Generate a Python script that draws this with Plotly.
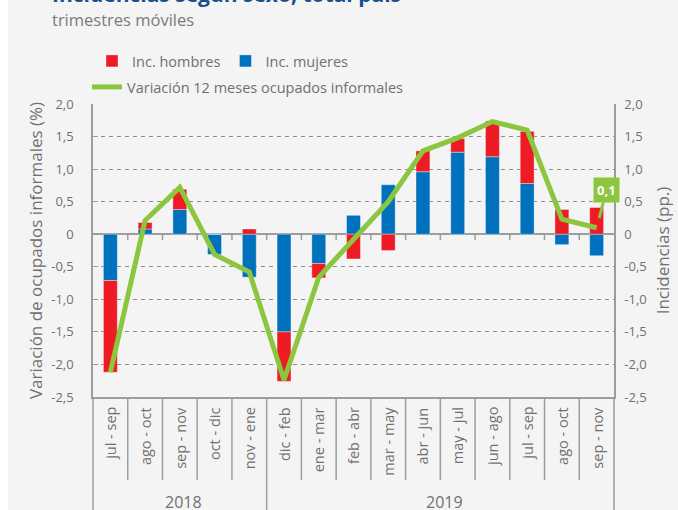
import plotly.graph_objects as go

# ---------------- data ----------------
periods = ["jul - sep", "ago - oct", "sep - nov", "oct - dic", "nov - ene",
           "dic - feb", "ene - mar", "feb - abr", "mar - may", "abr - jun",
           "may - jul", "jun - ago", "jul - sep", "ago - oct", "sep - nov"]
years = ["2018"] * 5 + ["2019"] * 10
inc_mujeres = [-0.71, 0.08, 0.38, -0.31, -0.66, -1.50, -0.45, 0.29, 0.76, 0.96,
               1.26, 1.19, 0.78, -0.16, -0.33]
inc_hombres = [-1.41, 0.10, 0.31, 0.00, 0.08, -0.76, -0.22, -0.38, -0.25, 0.32,
               0.21, 0.55, 0.80, 0.38, 0.41]
variacion = [-2.12, 0.21, 0.72, -0.31, -0.58, -2.24, -0.66, -0.07, 0.50, 1.28,
             1.48, 1.73, 1.60, 0.23, 0.10]
tick_vals = [2.0, 1.5, 1.0, 0.5, 0.0, -0.5, -1.0, -1.5, -2.0, -2.5]
tick_text = ["2,0", "1,5", "1,0", "0,5", "0", "-0,5", "-1,0", "-1,5", "-2,0", "-2,5"]

# ---------------- styling ----------------
OFFX = 8                      # page left margin (white strip)
W, H = 678 - OFFX, 510
PLOT_LEFT, PLOT_RIGHT, PLOT_TOP, PLOT_BOTTOM = 93, 614, 104, 397   # page px
L, R = PLOT_LEFT - OFFX, W - (PLOT_RIGHT - OFFX)
T, B = PLOT_TOP, H - PLOT_BOTTOM
PW, PH = W - L - R, H - T - B
FONT = "Open Sans"
GRAY_TXT = "#707070"
AXIS_GRAY = "#9d9d9d"
RED, BLUE, GREEN = "#ed1c24", "#0071bc", "#8cc63f"
BG = "#f4f4f4"


def px_x(px):
    return (px - OFFX - L) / PW


def px_y(py):
    return (H - B - py) / PH


x = list(range(len(periods)))

fig = go.Figure()
fig.add_trace(go.Bar(x=x, y=inc_mujeres, name="Inc. mujeres", marker_color=BLUE,
                     marker_line=dict(width=0.6, color="rgba(255,255,255,0.6)"),
                     width=0.4, legend="legend", legendrank=2))
fig.add_trace(go.Bar(x=x, y=inc_hombres, name="Inc. hombres", marker_color=RED,
                     marker_line=dict(width=0.6, color="rgba(255,255,255,0.6)"),
                     width=0.4, legend="legend", legendrank=1))
fig.add_trace(go.Scatter(x=x, y=variacion, mode="lines",
                         name="Variación 12 meses ocupados informales",
                         line=dict(color=GREEN, width=5), legend="legend2"))
# invisible trace so the right axis is drawn
fig.add_trace(go.Scatter(x=x, y=variacion, yaxis="y2", mode="lines", opacity=0,
                         showlegend=False, hoverinfo="skip"))

yrange = [min(tick_vals), max(tick_vals)]

fig.update_layout(
    width=W, height=H,
    margin=dict(l=L, r=R, t=T, b=B, autoexpand=False),
    paper_bgcolor=BG, plot_bgcolor=BG,
    barmode="relative",
    font=dict(family=FONT, color=GRAY_TXT, size=13),
    xaxis=dict(range=[-0.5, len(periods) - 0.5], showticklabels=False, ticks="",
               showgrid=False, zeroline=False, showline=True, linecolor=AXIS_GRAY,
               linewidth=1.5, fixedrange=True),
    yaxis=dict(range=yrange, tickvals=tick_vals, ticktext=tick_text,
               showgrid=True, gridcolor="#8a8a8a", griddash="4px,4px", gridwidth=1,
               zeroline=True, zerolinecolor=AXIS_GRAY, zerolinewidth=2,
               showline=True, linecolor=AXIS_GRAY, linewidth=1.5,
               ticks="inside", ticklen=5, tickcolor=AXIS_GRAY,
               ticklabelstandoff=15,
               tickfont=dict(size=13, color=GRAY_TXT),
               title=dict(text="Variación de ocupados informales (%)",
                          font=dict(size=17, color=GRAY_TXT), standoff=4),
               automargin=False),
    yaxis2=dict(range=yrange, tickvals=tick_vals, ticktext=tick_text,
                overlaying="y", side="right", showgrid=False, zeroline=False,
                showline=True, linecolor=AXIS_GRAY, linewidth=1.5, ticks="",
                ticklabelstandoff=6,
                tickfont=dict(size=13, color=GRAY_TXT),
                title=dict(text="Incidencias (pp.)",
                           font=dict(size=17, color=GRAY_TXT), standoff=11),
                automargin=False),
    legend=dict(orientation="h", x=px_x(92), xanchor="left", y=px_y(61),
                yanchor="middle", bgcolor="rgba(0,0,0,0)",
                font=dict(size=14.5, color=GRAY_TXT), traceorder="normal"),
    legend2=dict(orientation="h", x=px_x(87), xanchor="left", y=px_y(87),
                 yanchor="middle", bgcolor="rgba(0,0,0,0)",
                 font=dict(size=14.5, color=GRAY_TXT)),
    showlegend=True,
)

shapes = []
# small ticks on the zero line at category boundaries
for i in range(len(periods) - 1):
    shapes.append(dict(type="line", xref="x", yref="y", x0=i + 0.5, x1=i + 0.5,
                       y0=0, y1=-0.09, line=dict(color=AXIS_GRAY, width=1.5)))
# category separators under the plot
for i in range(1, len(periods)):
    year_break = years[i] != years[i - 1]
    shapes.append(dict(type="line", xref="x", yref="paper", x0=i - 0.5, x1=i - 0.5,
                       y0=0, y1=px_y(H + 5) if year_break else px_y(480),
                       line=dict(color=AXIS_GRAY, width=1.5)))
# outer verticals under the plot
for xp in (0, 1):
    shapes.append(dict(type="line", xref="paper", yref="paper", x0=xp, x1=xp,
                       y0=0, y1=px_y(H + 5), line=dict(color=AXIS_GRAY, width=1.5)))
fig.update_layout(shapes=shapes)

ann = []
for i, p in enumerate(periods):
    ann.append(dict(x=i, y=px_y(405), xref="x", yref="paper", text=p,
                    textangle=-90, showarrow=False, xanchor="center", yanchor="top",
                    font=dict(size=14.5, color=GRAY_TXT)))
for yr in dict.fromkeys(years):
    idx = [i for i, v in enumerate(years) if v == yr]
    ann.append(dict(x=sum(idx) / len(idx), y=px_y(502), xref="x", yref="paper",
                    text=yr, showarrow=False, xanchor="center", yanchor="middle",
                    xshift=4, font=dict(size=16, color=GRAY_TXT)))
# title (cut off at top) and subtitle
ann.append(dict(x=px_x(50), y=px_y(10), xref="paper", yref="paper",
                text="<b>Incidencias según sexo, total país</b>", showarrow=False,
                xanchor="left", yanchor="bottom",
                font=dict(size=21, color="#17508f")))
ann.append(dict(x=px_x(50), y=px_y(20), xref="paper", yref="paper",
                text="trimestres móviles", showarrow=False,
                xanchor="left", yanchor="middle",
                font=dict(size=16.5, color="#7b7b7b")))
# last value callout
last = variacion[-1]
ann.append(dict(x=len(periods) - 1, y=last, xref="x", yref="y",
                text="<b>" + f"{last:.1f}".replace(".", ",") + "</b>",
                showarrow=True, arrowhead=0, arrowwidth=3, arrowcolor=GREEN,
                ax=10, ay=-38, standoff=10, bgcolor=GREEN, borderpad=3,
                font=dict(size=13, color="white")))
fig.update_layout(annotations=ann)

fig.write_html("out.html",
               post_script="document.body.style.margin='0px 0px 0px %dpx';" % OFFX)
